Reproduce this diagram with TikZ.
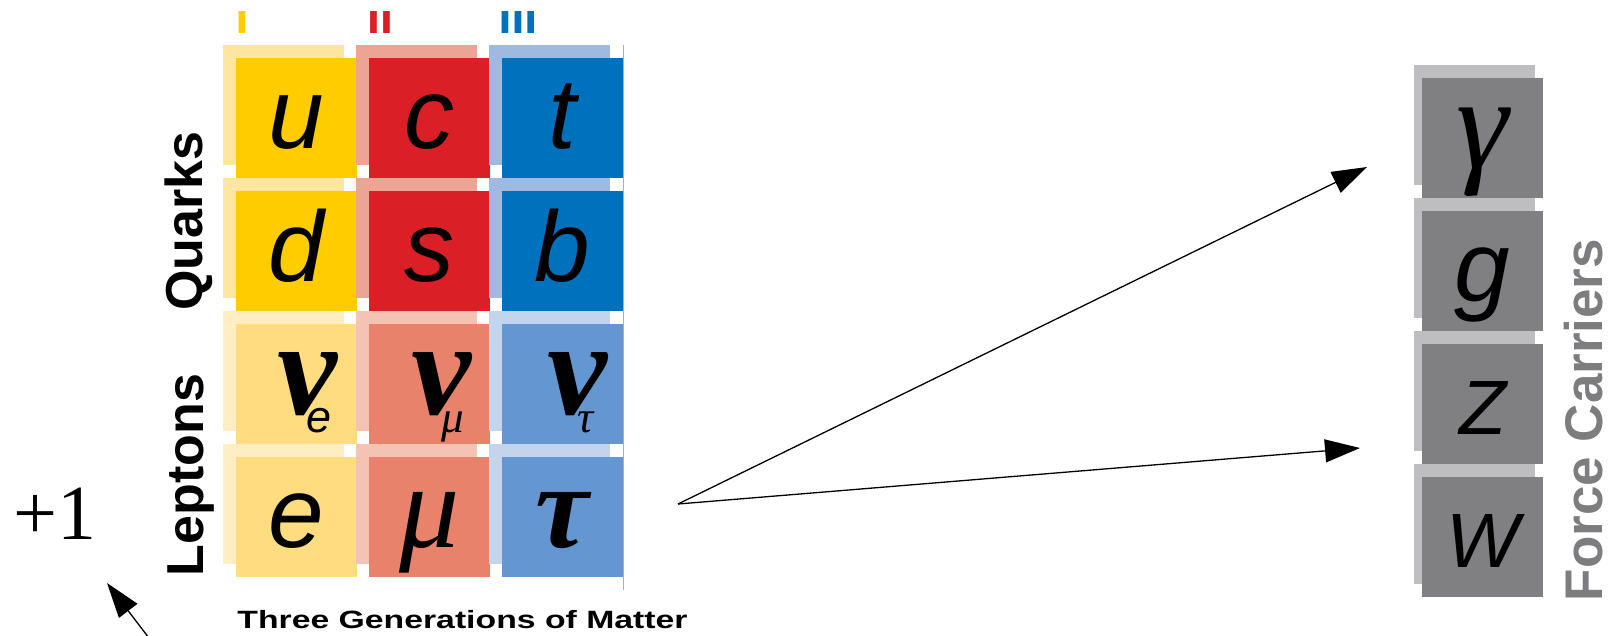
\documentclass[tikz,border=0pt]{standalone}
\usepackage{fontspec}
\setmainfont{Liberation Serif}
\setsansfont{Liberation Sans}
\usetikzlibrary{arrows.meta, shadows}
\definecolor{qone}{RGB}{255,204,0}
\definecolor{qoneback}{RGB}{255,230,160}
\definecolor{qtwo}{RGB}{218,31,38}
\definecolor{qtwoback}{RGB}{236,165,148}
\definecolor{qthree}{RGB}{0,113,188}
\definecolor{qthreeback}{RGB}{160,185,225}
\definecolor{lone}{RGB}{254,220,127}
\definecolor{loneback}{RGB}{255,238,195}
\definecolor{ltwo}{RGB}{232,130,106}
\definecolor{ltwoback}{RGB}{244,195,180}
\definecolor{lthree}{RGB}{100,150,210}
\definecolor{lthreeback}{RGB}{195,212,236}
\definecolor{bosoncolor}{RGB}{128,128,130}
\definecolor{bosonback}{RGB}{190,190,192}
\definecolor{carriertext}{RGB}{125,125,127}
\definecolor{rulecolor}{RGB}{175,175,175}
\newcommand\latinsym{\fontsize{100}{100}\selectfont\sffamily\itshape}
\newcommand\greeksym{\fontsize{120}{120}\selectfont\rmfamily\itshape}
\newcommand\nusym{\fontsize{135}{135}\selectfont\rmfamily\itshape\bfseries ν}
\newcommand\subsym{\fontsize{45}{45}\selectfont}
\tikzset{
  cellbase/.style={minimum width=121pt, minimum height=120pt, inner sep=0pt,
                   text height=60pt, text depth=0pt, font=\latinsym},
  cell/.style 2 args={cellbase, fill=#1,
               copy shadow={fill=#2, draw=none,
                            shadow xshift=-13pt, shadow yshift=13pt}},
  carrier/.style={cellbase, fill=bosoncolor,
                  copy shadow={fill=bosonback, draw=none,
                               shadow xshift=-8pt, shadow yshift=13pt}},
  rowlabel/.style={rotate=90, anchor=base,
                   font=\fontsize{52}{52}\selectfont\sffamily\bfseries},
  genlabel/.style={anchor=base, font=\fontsize{32}{32}\selectfont\sffamily\bfseries},
  arrow/.style={-{Triangle[length=35pt, width=23pt]}, line width=1.3pt},
}

\begin{document}
\begin{tikzpicture}[x=1pt, y=-1pt]
  \useasboundingbox (0,0) rectangle (1611,635);

  % generations
  \node[genlabel, text=qone] (gen1) at (242,33) {\scalebox{1.45}[1]{I}};
  \node[genlabel, text=qtwo] (gen2) at (380,33) {\scalebox{1.45}[1]{II}};
  \node[genlabel, text=qthree] (gen3) at (518,33) {\scalebox{1.45}[1]{III}};

  % quarks
  \node[cell={qone}{qoneback}] (u) at (296.5,118) {u};
  \node[cell={qtwo}{qtwoback}] (c) at (429.5,118) {c};
  \node[cell={qthree}{qthreeback}] (t) at (562.5,118) {t};
  \node[cell={qone}{qoneback}] (d) at (296.5,251) {d};
  \node[cell={qtwo}{qtwoback}] (s) at (429.5,251) {s};
  \node[cell={qthree}{qthreeback}] (b) at (562.5,251) {b};

  % leptons
  \node[cell={lone}{loneback}] (nue) at (296.5,384)
    {\hspace*{16pt}{\nusym}\kern-30pt\raisebox{-18pt}{\subsym e}};
  \node[cell={ltwo}{ltwoback}] (numu) at (429.5,384)
    {\hspace*{16pt}{\nusym}\kern-30pt\raisebox{-18pt}{\subsym\rmfamily μ}};
  \node[cell={lthree}{lthreeback}] (nutau) at (562.5,384)
    {\hspace*{16pt}{\nusym}\kern-30pt\raisebox{-18pt}{\subsym\rmfamily τ}};
  \node[cell={lone}{loneback}] (e) at (296.5,517) {e};
  \node[cell={ltwo}{ltwoback}] (mu) at (429.5,517) {\greeksym μ};
  \node[cell={lthree}{lthreeback}] (tau) at (562.5,517) {\greeksym\bfseries τ};

  \draw[rulecolor, line width=1.5pt] (623.5,45) -- (623.5,590);

  \node[rowlabel] (quarks) at (202,221) {Quarks};
  \node[rowlabel] (leptons) at (203,475) {Leptons};
  \node[anchor=base, font=\fontsize{25}{25}\selectfont\sffamily\bfseries]
    (matter) at (462.5,628) {\scalebox{1.35}[1]{Three Generations of Matter}};

  % force carriers
  \node[carrier] (gamma) at (1482.5,138) {\fontsize{132}{132}\selectfont\rmfamily γ};
  \node[carrier] (g) at (1482.5,271) {g};
  \node[carrier] (Z) at (1482.5,404) {\fontsize{77}{77}\selectfont Z};
  \node[carrier] (W) at (1482.5,537) {\fontsize{77}{77}\selectfont W};
  \node[rowlabel, text=carriertext, font=\fontsize{53}{53}\selectfont\sffamily\bfseries]
    (carriers) at (1602,420) {Force Carriers};

  \node[anchor=base west, font=\fontsize{78}{78}\selectfont] (charge) at (10,539) {+1};

  \coordinate (src) at (678,504);
  \coordinate (gammaIn) at (1367,167);
  \coordinate (zIn) at (1360,448);
  \coordinate (chargeTail) at (152,642);
  \coordinate (chargeTip) at (107,583);
  \draw[arrow] (src) -- (gammaIn);
  \draw[arrow] (src) -- (zIn);
  \draw[arrow] (chargeTail) -- (chargeTip);

\end{tikzpicture}
\end{document}
